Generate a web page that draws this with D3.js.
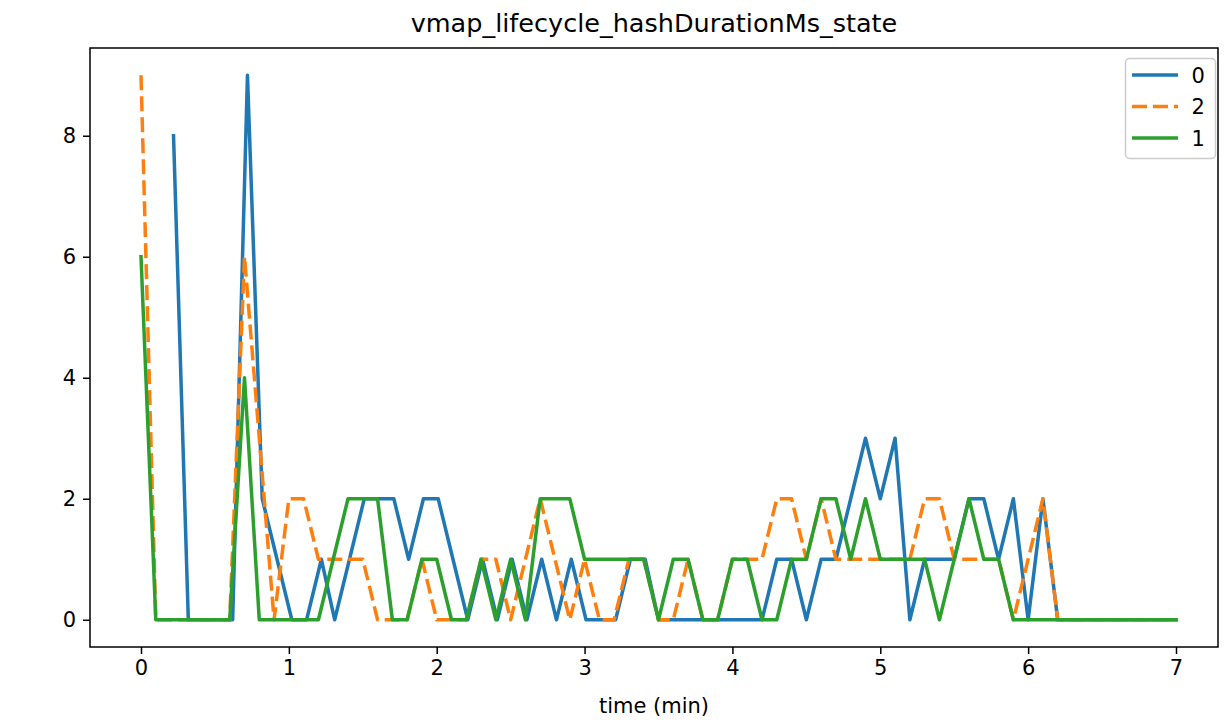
<!DOCTYPE html>
<html>
<head>
<meta charset="utf-8">
<script src="https://cdn.jsdelivr.net/npm/d3@7"></script>
<style>
  body { margin: 0; background: #fff; }
  svg { display: block; font-family: "DejaVu Sans", sans-serif; }
</style>
</head>
<body>
<script>
// sample times (minutes)
var timeGrid = [
  0.0, 0.1, 0.2, 0.3, 0.4, 0.5, 0.6, 0.7, 0.8, 0.9,
  1.0, 1.1, 1.2, 1.3, 1.4, 1.5, 1.6, 1.7, 1.8, 1.9,
  2.0, 2.1, 2.2, 2.3, 2.4, 2.5, 2.6, 2.7, 2.8, 2.9,
  3.0, 3.1, 3.2, 3.3, 3.4, 3.5, 3.6, 3.7, 3.8, 3.9,
  4.0, 4.1, 4.2, 4.3, 4.4, 4.5, 4.6, 4.7, 4.8, 4.9,
  5.0, 5.1, 5.2, 5.3, 5.4, 5.5, 5.6, 5.7, 5.8, 5.9,
  6.0, 6.1, 6.2, 6.3, 6.4, 6.5, 6.6, 6.7, 6.8, 6.9, 7.0
];
var timeState0 = [
  0.22, 0.32, 0.42, 0.52, 0.62, 0.72, 0.82, 0.92, 1.02, 1.12,
  1.22, 1.31, 1.41, 1.51, 1.61, 1.71, 1.81, 1.91, 2.01, 2.11,
  2.21, 2.31, 2.41, 2.51, 2.61, 2.71, 2.81, 2.91, 3.01, 3.11,
  3.21, 3.31, 3.41, 3.50, 3.60, 3.70, 3.80, 3.90, 4.00, 4.10,
  4.20, 4.30, 4.40, 4.50, 4.60, 4.70, 4.80, 4.90, 5.00, 5.10,
  5.20, 5.30, 5.40, 5.50, 5.60, 5.70, 5.80, 5.90, 6.00, 6.10,
  6.20, 6.30, 6.40, 6.50, 6.60, 6.70, 6.80, 6.90, 7.00
];

var state0 = [
  8, 0, 0, 0, 0, 9, 2, 1, 0, 0,
  1, 0, 1, 2, 2, 2, 1, 2, 2, 1,
  0, 1, 0, 1, 0, 1, 0, 1, 0, 0,
  0, 1, 1, 0, 0, 0, 0, 0, 0, 0,
  0, 1, 1, 0, 1, 1, 2, 3, 2, 3,
  0, 1, 1, 1, 2, 2, 1, 2, 0, 2,
  0, 0, 0, 0, 0, 0, 0, 0, 0
];
var state2 = [
  9, 0, 0, 0, 0, 0, 0, 6, 3, 0,
  2, 2, 1, 1, 1, 1, 0, 0, 0, 1,
  0, 0, 0, 1, 1, 0, 1, 2, 1, 0,
  1, 0, 0, 1, 1, 0, 0, 1, 0, 0,
  1, 1, 1, 2, 2, 1, 2, 1, 1, 1,
  1, 1, 1, 2, 2, 1, 1, 1, 1, 0,
  1, 2, 0, 0, 0, 0, 0, 0, 0, 0, 0
];
var state1 = [
  6, 0, 0, 0, 0, 0, 0, 4, 0, 0,
  0, 0, 0, 1, 2, 2, 2, 0, 0, 1,
  1, 0, 0, 1, 0, 1, 0, 2, 2, 2,
  1, 1, 1, 1, 1, 0, 1, 1, 0, 0,
  1, 1, 0, 0, 1, 1, 2, 2, 1, 2,
  1, 1, 1, 1, 0, 1, 2, 1, 1, 0,
  0, 0, 0, 0, 0, 0, 0, 0, 0, 0, 0
];

var seriesNames = ["0", "2", "1"];
var xTicks = [0, 1, 2, 3, 4, 5, 6, 7];
var yTicks = [0, 2, 4, 6, 8];

var series = [
  { name: seriesNames[0], times: timeState0, values: state0, color: "#1f77b4", dash: null },
  { name: seriesNames[1], times: timeGrid, values: state2, color: "#ff7f0e", dash: "15,6" },
  { name: seriesNames[2], times: timeGrid, values: state1, color: "#2ca02c", dash: null }
];

var width = 1227, height = 725;
var plot = { left: 90, top: 48, right: 1218, bottom: 647 };

var svg = d3.select("body").append("svg")
    .attr("width", width)
    .attr("height", height);

var x = d3.scaleLinear()
    .domain([0, 7])
    .range([141, 1176]);

var y = d3.scaleLinear()
    .domain([-0.45, 9.45])
    .range([plot.bottom, plot.top]);

// axes
svg.append("g")
    .attr("transform", "translate(0," + plot.bottom + ")")
    .call(d3.axisBottom(x).tickValues(xTicks).tickSize(7).tickPadding(6).tickFormat(d3.format("d")))
    .call(function(g) { g.select(".domain").remove(); })
    .call(function(g) {
      g.selectAll("line").attr("stroke", "#000").attr("stroke-width", 1.5);
      g.selectAll("text").attr("font-size", "21px").attr("fill", "#000")
        .attr("font-family", "DejaVu Sans");
    });

svg.append("g")
    .attr("transform", "translate(" + plot.left + ",0)")
    .call(d3.axisLeft(y).tickValues(yTicks).tickSize(7).tickPadding(7).tickFormat(d3.format("d")))
    .call(function(g) { g.select(".domain").remove(); })
    .call(function(g) {
      g.selectAll("line").attr("stroke", "#000").attr("stroke-width", 1.5);
      g.selectAll("text").attr("font-size", "21px").attr("fill", "#000")
        .attr("font-family", "DejaVu Sans");
    });

// lines
var line = d3.line()
    .x(function(d) { return x(d.t); })
    .y(function(d) { return y(d.v); });

var plotArea = svg.append("g");
series.forEach(function(s) {
  var pts = s.values.map(function(v, i) { return { t: s.times[i], v: v }; });
  plotArea.append("path")
      .datum(pts)
      .attr("d", line)
      .attr("fill", "none")
      .attr("stroke", s.color)
      .attr("stroke-width", 3.5)
      .attr("stroke-linejoin", "round")
      .attr("stroke-linecap", s.dash ? "butt" : "square")
      .attr("stroke-dasharray", s.dash);
});

// frame
svg.append("rect")
    .attr("x", plot.left)
    .attr("y", plot.top)
    .attr("width", plot.right - plot.left)
    .attr("height", plot.bottom - plot.top)
    .attr("fill", "none")
    .attr("stroke", "#000")
    .attr("stroke-width", 1.5);

// title and label
svg.append("text")
    .attr("x", (plot.left + plot.right) / 2)
    .attr("y", 32)
    .attr("text-anchor", "middle")
    .attr("font-size", "25.5px")
    .text("vmap_lifecycle_hashDurationMs_state");

svg.append("text")
    .attr("x", (plot.left + plot.right) / 2)
    .attr("y", 713)
    .attr("text-anchor", "middle")
    .attr("font-size", "21px")
    .text("time (min)");

// legend
var legend = svg.append("g").attr("transform", "translate(1125.5,58.5)");
legend.append("rect")
    .attr("width", 90)
    .attr("height", 100)
    .attr("rx", 4)
    .attr("fill", "#fff")
    .attr("fill-opacity", 0.8)
    .attr("stroke", "#cccccc")
    .attr("stroke-width", 1.5);

var item = legend.selectAll(".item")
    .data(series)
  .enter().append("g")
    .attr("class", "item")
    .attr("transform", function(d, i) { return "translate(0," + (16.5 + i * 31.5) + ")"; });

item.append("line")
    .attr("x1", 6.5)
    .attr("x2", 52.5)
    .attr("stroke", function(d) { return d.color; })
    .attr("stroke-width", 3.5)
    .attr("stroke-dasharray", function(d) { return d.dash; });

item.append("text")
    .attr("x", 66)
    .attr("y", 7.5)
    .attr("font-size", "21px")
    .text(function(d) { return d.name; });
</script>
</body>
</html>
